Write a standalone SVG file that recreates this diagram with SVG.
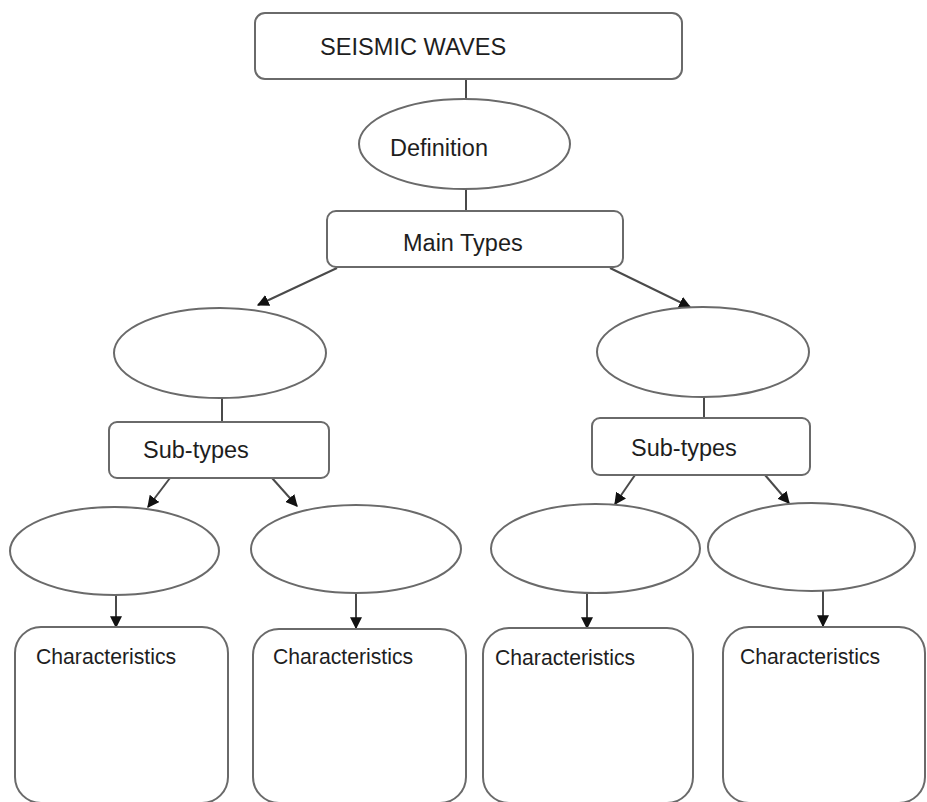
<svg xmlns="http://www.w3.org/2000/svg" width="927" height="802" viewBox="0 0 927 802">
<style>
.box{fill:#fff;stroke:#6a6a6a;stroke-width:2}
.t{font-family:"Liberation Sans",Arial,sans-serif;fill:#1e1e1e}
.c{stroke:#4a4a4a;stroke-width:2;fill:none}
.a{marker-end:url(#ah)}
</style>
<defs>
<marker id="ah" viewBox="0 0 10 10" refX="9" refY="5" markerWidth="6" markerHeight="6" markerUnits="strokeWidth" orient="auto">
<path d="M0,0 L10,5 L0,10 z" fill="#111"/>
</marker>
</defs>
<rect width="927" height="802" fill="#fff"/>
<g id="connectors">
<line class="c" x1="466" y1="79" x2="466" y2="100"/>
<line class="c" x1="466" y1="189" x2="466" y2="211"/>
<line class="c a" x1="337" y1="268" x2="258" y2="305"/>
<line class="c a" x1="610" y1="268" x2="690" y2="307"/>
<line class="c" x1="222" y1="398" x2="222" y2="422"/>
<line class="c" x1="704" y1="397" x2="704" y2="418"/>
<line class="c a" x1="170" y1="478" x2="148" y2="507"/>
<line class="c a" x1="272" y1="478" x2="297" y2="506"/>
<line class="c a" x1="635" y1="475" x2="615" y2="504"/>
<line class="c a" x1="765" y1="475" x2="789" y2="503"/>
<line class="c a" x1="116" y1="595" x2="116" y2="627"/>
<line class="c a" x1="356" y1="593" x2="356" y2="628"/>
<line class="c a" x1="587" y1="593" x2="587" y2="628"/>
<line class="c a" x1="823" y1="591" x2="823" y2="626"/>
</g>
<g id="seismic-waves">
<rect class="box" x="255" y="13" width="427" height="66" rx="10"/>
<text class="t" x="320" y="55" font-size="23.6">SEISMIC WAVES</text>
</g>
<g id="definition">
<ellipse class="box" cx="464.5" cy="144" rx="105.5" ry="45"/>
<text class="t" x="390" y="156" font-size="23.5">Definition</text>
</g>
<g id="main-types">
<rect class="box" x="327" y="211" width="296" height="56" rx="9"/>
<text class="t" x="403" y="251" font-size="23.5">Main Types</text>
</g>
<g id="type-left">
<ellipse class="box" cx="220" cy="353" rx="106" ry="45"/>
</g>
<g id="type-right">
<ellipse class="box" cx="703" cy="352" rx="106" ry="45"/>
</g>
<g id="subtypes-left">
<rect class="box" x="109" y="422" width="220" height="56" rx="8"/>
<text class="t" x="143" y="458" font-size="23.5">Sub-types</text>
</g>
<g id="subtypes-right">
<rect class="box" x="592" y="418" width="218" height="57" rx="8"/>
<text class="t" x="631" y="456" font-size="23.5">Sub-types</text>
</g>
<g id="sub1"><ellipse class="box" cx="114.5" cy="551" rx="104.5" ry="44"/></g>
<g id="sub2"><ellipse class="box" cx="356" cy="549" rx="105" ry="44"/></g>
<g id="sub3"><ellipse class="box" cx="595.5" cy="548.5" rx="104.5" ry="44.5"/></g>
<g id="sub4"><ellipse class="box" cx="811.5" cy="547" rx="103.5" ry="44"/></g>
<g id="char1">
<rect class="box" x="15" y="627" width="213" height="176" rx="26"/>
<text class="t" x="36" y="664" font-size="21.2">Characteristics</text>
</g>
<g id="char2">
<rect class="box" x="253" y="629" width="213" height="174" rx="26"/>
<text class="t" x="273" y="664" font-size="21.2">Characteristics</text>
</g>
<g id="char3">
<rect class="box" x="483" y="628" width="210" height="175" rx="26"/>
<text class="t" x="495" y="665" font-size="21.2">Characteristics</text>
</g>
<g id="char4">
<rect class="box" x="723" y="627" width="202" height="176" rx="26"/>
<text class="t" x="740" y="664" font-size="21.2">Characteristics</text>
</g>
</svg>
